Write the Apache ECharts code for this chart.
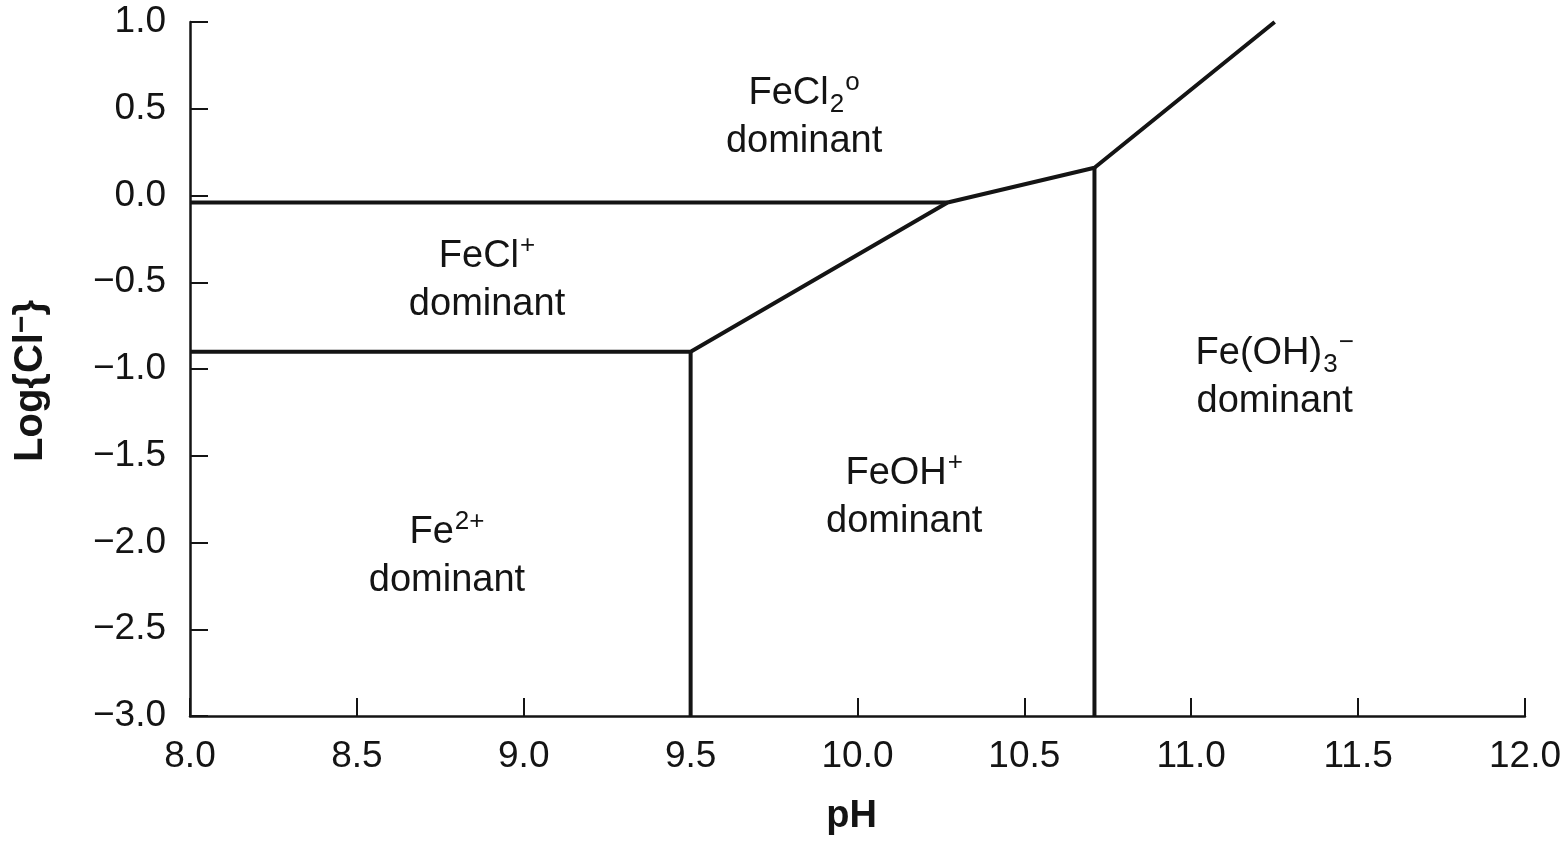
<!DOCTYPE html>
<html>
<head>
<meta charset="utf-8">
<script src="https://cdn.jsdelivr.net/npm/echarts@6/dist/echarts.min.js"></script>
<style>
html,body{margin:0;padding:0;background:#fff;}
#chart{width:1564px;height:841px;}
</style>
</head>
<body>
<div id="chart"></div>
<script>
// Boundary lines (pH, log{Cl-})
const upperHorizontal = [[8.0, -0.04], [10.27, -0.04]];
const mainBoundary = [[8.0, -0.9], [9.5, -0.9], [10.27, -0.04], [10.71, 0.16], [11.25, 1.0]];
const vertical95 = [[9.5, -3.0], [9.5, -0.9]];
const vertical1071 = [[10.71, -3.0], [10.71, 0.16]];

// Region labels
const regionPositions = [[9.84, 0.45], [8.89, -0.49], [8.77, -2.08], [10.14, -1.74], [11.25, -1.05]];
const regionTexts = [
  '{n|FeCl}{sub|2}{sup|o}\n{n|dominant}',
  '{n|FeCl}{sup|+}\n{n|dominant}',
  '{n|Fe}{sup|2+}\n{n|dominant}',
  '{n|FeOH}{sup|+}\n{n|dominant}',
  '{n|Fe(OH)}{sub|3}{sup|−}\n{n|dominant}'
];

const xMin = 8.0, xMax = 12.0, xStep = 0.5;
const yMin = -3.0, yMax = 1.0, yStep = 0.5;

const FONT = 'Liberation Sans, Arial, Helvetica, sans-serif';
const INK = '#141414';

const chart = echarts.init(document.getElementById('chart'), null, {renderer: 'canvas'});

const lineStyle = {color: INK, width: 4};
function seg(data) {
  return {
    type: 'line', data: data, showSymbol: false, symbol: 'none',
    lineStyle: lineStyle, clip: false, silent: true, z: 3
  };
}

const rich = {
  n: {fontSize: 38, fontFamily: FONT, color: INK, lineHeight: 48, opacity: 1},
  sup: {fontSize: 26, fontFamily: FONT, color: INK, verticalAlign: 'top', padding: [0, 0, 8, 1]},
  sub: {fontSize: 26, fontFamily: FONT, color: INK, verticalAlign: 'bottom', padding: [4, 0, 0, 1]}
};

chart.setOption({
  animation: false,
  backgroundColor: '#fff',
  grid: {left: 190, right: 35, top: 22, bottom: 122, containLabel: false},
  xAxis: {
    type: 'value', min: xMin, max: xMax, interval: xStep,
    name: 'pH', nameLocation: 'middle', nameGap: 82,
    nameTextStyle: {fontSize: 38, fontWeight: 'bold', fontFamily: FONT, color: INK, padding: [0, 12, 0, 0]},
    axisLine: {show: true, onZero: false, lineStyle: {color: INK, width: 2.5}},
    axisTick: {show: true, inside: true, length: 18, lineStyle: {color: INK, width: 2}},
    axisLabel: {fontSize: 37, fontFamily: FONT, color: INK, margin: 22,
      formatter: v => v.toFixed(1)},
    splitLine: {show: false}
  },
  yAxis: {
    type: 'value', min: yMin, max: yMax, interval: yStep,
    name: 'Log{Cl{s|−}}', nameLocation: 'middle', nameGap: 136, nameRotate: 90,
    nameTextStyle: {
      fontSize: 40, fontWeight: 'bold', fontFamily: FONT, color: INK, lineHeight: 46,
      padding: [0, 24, 0, 0],
      rich: {
        s: {fontSize: 30, fontWeight: 'bold', fontFamily: FONT, color: INK, verticalAlign: 'top', padding: [0, 0, 6, 0]}
      }
    },
    axisLine: {show: true, onZero: false, lineStyle: {color: INK, width: 2.5}},
    axisTick: {show: true, inside: true, length: 18, lineStyle: {color: INK, width: 2}},
    axisLabel: {fontSize: 37, fontFamily: FONT, color: INK, margin: 24,
      formatter: v => v.toFixed(1).replace('-', '−')},
    splitLine: {show: false}
  },
  series: [
    seg(upperHorizontal),
    seg(mainBoundary),
    seg(vertical95),
    seg(vertical1071),
    {
      type: 'scatter', symbolSize: 0, silent: true, z: 5,
      itemStyle: {opacity: 1},
      data: regionPositions.map((p, i) => ({
        value: p,
        label: {show: true, position: 'inside', align: 'center', verticalAlign: 'middle',
          color: INK, textBorderWidth: 0, opacity: 1,
          formatter: regionTexts[i], rich: rich}
      }))
    }
  ]
});
</script>
</body>
</html>
